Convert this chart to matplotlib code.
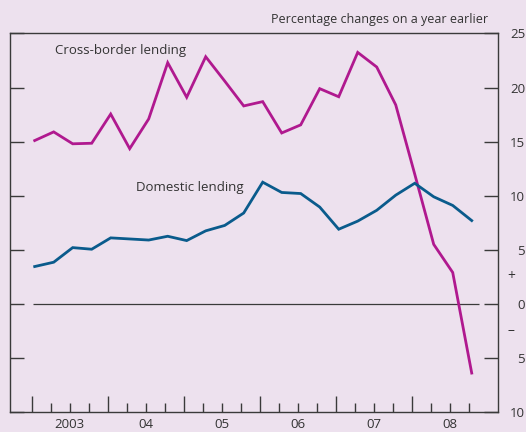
import matplotlib
matplotlib.use('Agg')
import matplotlib.pyplot as plt
import numpy as np

plt.rcParams['font.family'] = ['Open Sans', 'DejaVu Sans']

# quarterly growth rates, 2003 Q1 - 2008 Q4
cross_border = [15.1, 15.9, 14.8, 14.85, 17.55, 14.35, 17.1, 22.3,
                19.1, 22.85, 20.6, 18.3, 18.7, 15.8, 16.55, 19.9,
                19.15, 23.25, 21.9, 18.4, 12.0, 5.5, 2.9, -6.4]
domestic = [3.45, 3.85, 5.2, 5.05, 6.1, 6.0, 5.9, 6.25,
            5.85, 6.75, 7.25, 8.4, 11.25, 10.3, 10.2, 8.95,
            6.9, 7.65, 8.65, 10.05, 11.15, 9.9, 9.1, 7.7]
years = [2003, 2004, 2005, 2006, 2007, 2008]
year_labels = ['2003', '04', '05', '06', '07', '08']
y_ticks = [-10, -5, 0, 5, 10, 15, 20, 25]
y_labels = ['10', '5', '0', '5', '10', '15', '20', '25']

bg = '#ede1ee'
frame = '#3a3a3a'
magenta = '#b0198f'
blue = '#0a5b8c'
txt = '#333333'
fs = 9.5

x = years[0] + np.arange(len(domestic)) / 4 + 0.04

fig = plt.figure(figsize=(5.26, 4.32), dpi=100, facecolor=bg)
ax = fig.add_axes([0.019, 0.0463, 0.9278, 0.8762], facecolor=bg)

ax.hlines(0, 2003.017, 2008.885, color=frame, lw=0.9)
ax.plot(x, cross_border, color=magenta, lw=2.0, solid_joinstyle='miter')
ax.plot(x, domestic, color=blue, lw=2.0, solid_joinstyle='miter')

ax.set_xlim(2002.715, 2009.136)
ax.set_ylim(-10, 25)

for s in ax.spines.values():
    s.set_color(frame)
    s.set_linewidth(1.0)

# x axis: year ticks long, quarter ticks short, labels mid-year
ax.set_xticks(years)
ax.set_xticklabels([])
ax.set_xticks([y + q / 4 for y in years for q in (1, 2, 3)], minor=True)
ax.tick_params(axis='x', which='major', direction='in', length=11.5, width=1.0, color=frame)
ax.tick_params(axis='x', which='minor', direction='in', length=6.5, width=1.0, color=frame)

sec = ax.secondary_xaxis('bottom')
sec.set_xticks([y + 0.5 for y in years], year_labels)
sec.tick_params(length=0, pad=4, labelsize=fs, labelcolor=txt)
sec.spines['bottom'].set_visible(False)

# y axis: ticks both sides, labels on the right
ax.set_yticks(y_ticks)
ax.set_yticklabels(y_labels)
ax.tick_params(axis='y', which='major', direction='in', length=10, width=1.0, color=frame,
               left=True, right=True, labelleft=False, labelright=True,
               pad=19.5, labelsize=fs, labelcolor=txt)
for lab in ax.get_yticklabels():
    lab.set_horizontalalignment('right')

ax.text(1.0265, 2.5, '+', transform=ax.get_yaxis_transform(), ha='center', va='center',
        fontsize=fs + 0.5, color=txt)
ax.text(1.0275, -2.5, '–', transform=ax.get_yaxis_transform(), ha='center', va='center',
        fontsize=fs + 0.5, color=txt)

fig.text(0.928, 0.956, 'Percentage changes on a year earlier', ha='right', va='center',
         fontsize=9.0, color=txt)
ax.text(2003.31, 23.4, 'Cross-border lending', ha='left', va='center', fontsize=fs, color=txt)
ax.text(2004.37, 10.8, 'Domestic lending', ha='left', va='center', fontsize=fs, color=txt)

fig.savefig('out.png', dpi=100, facecolor=bg)
